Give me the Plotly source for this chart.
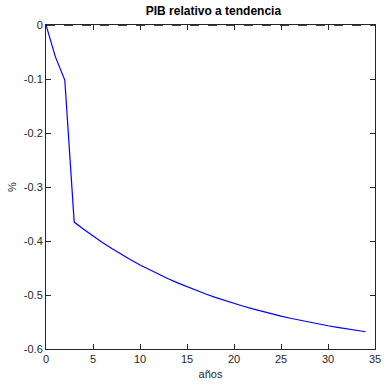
import plotly.graph_objects as go

anios = list(range(0, 35))
pib = [0.0, -0.059, -0.102, -0.365, -0.3783, -0.3908, -0.4027, -0.4140, -0.4247,
       -0.4347, -0.4443, -0.4533, -0.4619, -0.4700, -0.4776, -0.4849, -0.4917,
       -0.4982, -0.5044, -0.5102, -0.5157, -0.5209, -0.5258, -0.5305, -0.5349,
       -0.5391, -0.5431, -0.5468, -0.5504, -0.5537, -0.5569, -0.5599, -0.5628,
       -0.5655, -0.5680]
x_ticks = [0, 5, 10, 15, 20, 25, 30, 35]
y_ticks = [0, -0.1, -0.2, -0.3, -0.4, -0.5, -0.6]
y_labels = ["0", "-0.1", "-0.2", "-0.3", "-0.4", "-0.5", "-0.6"]

fig = go.Figure()
fig.add_trace(go.Scatter(x=anios, y=pib, mode="lines",
                         line=dict(color="#0000ff", width=1.2), showlegend=False))
fig.add_trace(go.Scatter(x=[0, 35], y=[0, 0], mode="lines",
                         line=dict(color="black", width=1.5, dash="dash"), showlegend=False))

axis_common = dict(showgrid=False, zeroline=False, showline=True, mirror="ticks",
                   linecolor="#262626", linewidth=1, ticks="inside", ticklen=5,
                   tickcolor="#262626", ticklabeloverflow="allow",
                   tickfont=dict(family="Liberation Sans, Arial", size=11, color="#262626"))

fig.update_xaxes(range=[0, 35], tickvals=x_ticks, **axis_common,
                 title=dict(text="años", font=dict(family="Liberation Sans, Arial", size=11, color="#262626"), standoff=6))
fig.update_yaxes(range=[-0.6, 0], tickvals=y_ticks, ticktext=y_labels, **axis_common,
                 title=dict(text="%", font=dict(family="Liberation Sans, Arial", size=11, color="#262626"), standoff=4))

fig.update_layout(
    width=386, height=392,
    margin=dict(l=46, r=5, t=25, b=43),
    plot_bgcolor="white", paper_bgcolor="white",
    title=dict(text="<b>PIB relativo a tendencia</b>", x=0.553, xanchor="center",
               y=1 - 11/392, yanchor="middle",
               font=dict(family="Liberation Sans, Arial", size=12, color="black")),
)

fig.write_html("out.html")
